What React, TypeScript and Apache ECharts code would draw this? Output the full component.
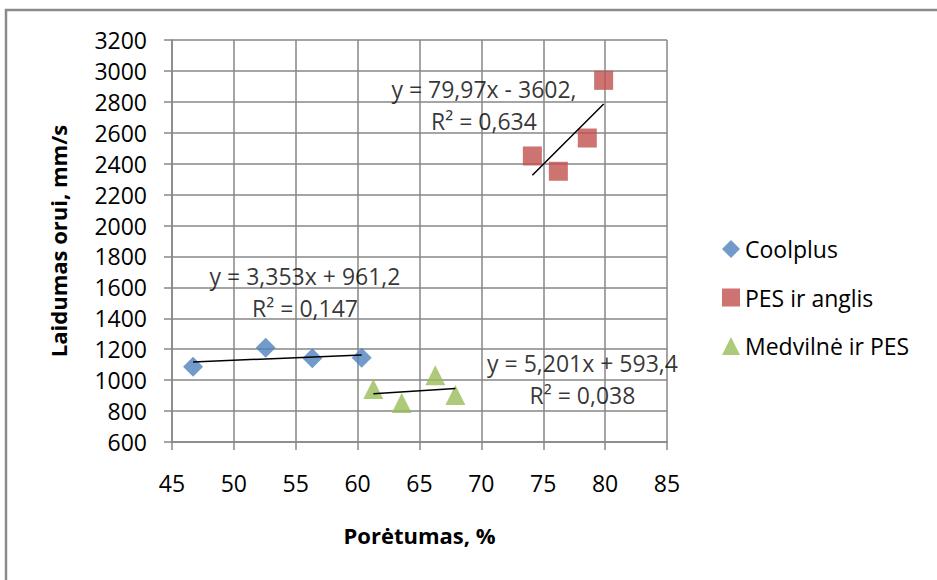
import React, { useEffect, useRef } from "react";
import * as echarts from "echarts";

// Porosity (%) vs. air permeability (mm/s) for three fabric groups
const coolplusPorosity = [46.7, 52.57, 56.34, 60.33];
const coolplusPermeability = [1087, 1210, 1141, 1145];

const pesCarbonPorosity = [74.12, 76.22, 78.56, 79.88];
const pesCarbonPermeability = [2450, 2351, 2566, 2939];

const cottonPesPorosity = [61.27, 63.56, 66.28, 67.9];
const cottonPesPermeability = [943, 852, 1031, 904];

// Linear trend coefficients [slope, intercept] and their equation texts
const coolplusTrend = [3.353, 961.2];
const pesCarbonTrend = [79.97, -3602];
const cottonPesTrend = [5.201, 593.4];

const coolplusEquation = "y = 3,353x + 961,2\nR² = 0,147";
const pesCarbonEquation = "y = 79,97x - 3602,\nR² = 0,634";
const cottonPesEquation = "y = 5,201x + 593,4\nR² = 0,038";

const seriesNames = ["Coolplus", "PES ir anglis", "Medvilnė ir PES"];

const xTitle = "Porėtumas, %";
const yTitle = "Laidumas orui, mm/s";

// Where each equation box is anchored, in axis units
const coolplusEquationAnchor = [55.75, 1570];
const pesCarbonEquationAnchor = [70.21, 2780];
const cottonPesEquationAnchor = [78.17, 1007];

const FONT = "'Open Sans', 'Noto Sans', sans-serif";
const GRID_COLOR = "#878787";

const zip = (xs: number[], ys: number[]) => xs.map((x, i) => [x, ys[i]]);

const trendLine = (xs: number[], coef: number[]) => {
  const lo = Math.min(...xs);
  const hi = Math.max(...xs);
  return [
    [lo, coef[0] * lo + coef[1]],
    [hi, coef[0] * hi + coef[1]],
  ];
};

const trendSeries = (name: string, xs: number[], coef: number[]) => ({
  name,
  type: "line",
  data: trendLine(xs, coef),
  symbol: "none",
  silent: true,
  z: 5,
  lineStyle: { color: "#000000", width: 1.5 },
});

const equationSeries = (name: string, anchor: number[], text: string) => ({
  name,
  type: "scatter",
  data: [anchor],
  symbolSize: 0,
  silent: true,
  z: 6,
  label: {
    show: true,
    position: "inside",
    formatter: () => text,
    fontFamily: FONT,
    fontSize: 23,
    lineHeight: 32,
    color: "#000000",
    align: "center",
    verticalAlign: "middle",
  },
});

export default function App() {
  const ref = useRef<HTMLDivElement>(null);

  useEffect(() => {
    if (!ref.current) return;
    const chart = echarts.init(ref.current, undefined, { renderer: "svg" });
    chart.setOption({
      animation: false,
      backgroundColor: "#ffffff",
      textStyle: { fontFamily: FONT },
      graphic: [
        {
          type: "rect",
          shape: { x: 6, y: 10, width: 1200, height: 1200 },
          style: { fill: "none", stroke: "#8a8a8a", lineWidth: 2.5 },
          silent: true,
        },
      ],
      grid: { left: 172, right: 270, top: 40, bottom: 138 },
      legend: {
        data: seriesNames,
        orient: "vertical",
        left: 722,
        top: 237,
        padding: 0,
        itemWidth: 18,
        itemHeight: 18,
        itemGap: 24.5,
        textStyle: { fontFamily: FONT, fontSize: 23, lineHeight: 24, color: "#000000" },
      },
      xAxis: {
        type: "value",
        min: 45,
        max: 85,
        interval: 5,
        name: xTitle,
        nameLocation: "middle",
        nameGap: 82,
        nameTextStyle: { fontFamily: FONT, fontSize: 22, fontWeight: "bold", color: "#000000" },
        axisLine: { show: true, lineStyle: { color: GRID_COLOR, width: 1.5 } },
        axisTick: { show: true, length: 8, lineStyle: { color: GRID_COLOR, width: 1.5 } },
        axisLabel: {
          margin: 29,
          fontFamily: FONT,
          fontSize: 23,
          color: "#000000",
          formatter: (v: number) => String(v),
        },
        splitLine: { show: true, lineStyle: { color: GRID_COLOR, width: 1.5 } },
      },
      yAxis: {
        type: "value",
        min: 600,
        max: 3200,
        interval: 200,
        name: yTitle,
        nameLocation: "middle",
        nameGap: 103,
        nameRotate: 90,
        nameTextStyle: { fontFamily: FONT, fontSize: 22, fontWeight: "bold", color: "#000000" },
        axisLine: { show: true, lineStyle: { color: GRID_COLOR, width: 1.5 } },
        axisTick: { show: true, length: 8, lineStyle: { color: GRID_COLOR, width: 1.5 } },
        axisLabel: {
          margin: 25,
          fontFamily: FONT,
          fontSize: 23,
          color: "#000000",
          formatter: (v: number) => String(v),
        },
        splitLine: { show: true, lineStyle: { color: GRID_COLOR, width: 1.5 } },
      },
      series: [
        {
          name: seriesNames[0],
          type: "scatter",
          symbol: "diamond",
          symbolSize: 20,
          itemStyle: { color: "#4F81BD" },
          data: zip(coolplusPorosity, coolplusPermeability),
          z: 3,
        },
        {
          name: seriesNames[1],
          type: "scatter",
          symbol: "rect",
          symbolSize: 19,
          itemStyle: { color: "#C0504D" },
          data: zip(pesCarbonPorosity, pesCarbonPermeability),
          z: 3,
        },
        {
          name: seriesNames[2],
          type: "scatter",
          symbol: "triangle",
          symbolSize: 20,
          itemStyle: { color: "#9BBB59" },
          data: zip(cottonPesPorosity, cottonPesPermeability),
          z: 3,
        },
        trendSeries("coolplus-trend", coolplusPorosity, coolplusTrend),
        trendSeries("pes-carbon-trend", pesCarbonPorosity, pesCarbonTrend),
        trendSeries("cotton-pes-trend", cottonPesPorosity, cottonPesTrend),
        equationSeries("coolplus-eq", coolplusEquationAnchor, coolplusEquation),
        equationSeries("pes-carbon-eq", pesCarbonEquationAnchor, pesCarbonEquation),
        equationSeries("cotton-pes-eq", cottonPesEquationAnchor, cottonPesEquation),
      ],
    });
    return () => chart.dispose();
  }, []);

  return (
    <div
      ref={ref}
      style={{ position: "fixed", left: 0, top: 0, width: 937, height: 580 }}
    />
  );
}
